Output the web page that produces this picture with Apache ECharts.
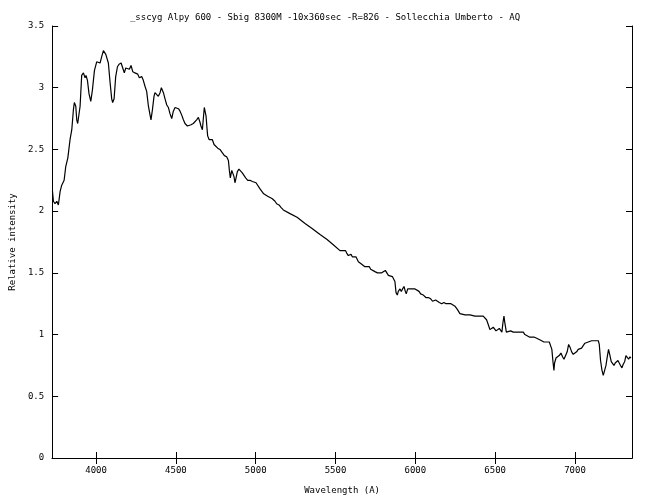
<!DOCTYPE html>
<html>
<head>
<meta charset="utf-8">
<script src="https://cdn.jsdelivr.net/npm/echarts@6/dist/echarts.min.js"></script>
<style>html,body{margin:0;padding:0;background:#fff}#c{width:650px;height:500px}</style>
</head>
<body>
<div id="c"></div>
<script>
var wavelengths = [3727,3733,3743,3754,3764,3775,3785,3800,3810,3823,3837,3848,3858,3864,3873,3879,3885,3894,3900,3910,3921,3931,3937,3946,3956,3967,3977,3990,4004,4015,4025,4035,4046,4052,4061,4069,4077,4088,4098,4104,4113,4123,4134,4144,4157,4167,4177,4186,4198,4209,4219,4230,4244,4261,4271,4286,4296,4307,4317,4328,4338,4344,4353,4363,4369,4380,4390,4401,4409,4422,4432,4443,4453,4463,4474,4484,4495,4505,4516,4526,4536,4547,4557,4572,4582,4595,4609,4620,4630,4641,4651,4657,4666,4672,4678,4683,4689,4695,4699,4708,4720,4728,4739,4751,4762,4776,4787,4804,4818,4829,4835,4841,4850,4856,4864,4870,4877,4885,4895,4906,4916,4927,4937,4950,4964,4979,4991,5002,5012,5027,5037,5050,5062,5075,5090,5104,5121,5131,5146,5158,5173,5215,5259,5309,5353,5403,5447,5484,5528,5549,5563,5570,5580,5591,5597,5605,5616,5628,5636,5643,5653,5664,5674,5684,5699,5712,5720,5730,5747,5762,5774,5789,5799,5812,5820,5831,5841,5856,5866,5872,5879,5887,5893,5904,5912,5920,5929,5937,5943,5952,5966,5983,5998,6008,6023,6033,6050,6066,6081,6096,6108,6119,6127,6137,6150,6165,6179,6192,6206,6223,6233,6248,6259,6265,6279,6311,6342,6373,6405,6425,6436,6446,6457,6467,6478,6488,6499,6505,6515,6526,6536,6542,6549,6555,6561,6570,6582,6597,6613,6630,6645,6659,6676,6686,6697,6714,6728,6743,6760,6776,6791,6805,6822,6839,6849,6855,6862,6868,6872,6881,6891,6901,6912,6922,6931,6941,6951,6960,6968,6979,6989,7000,7010,7020,7031,7041,7052,7062,7073,7083,7093,7104,7114,7125,7135,7146,7152,7160,7169,7177,7185,7194,7202,7210,7219,7227,7235,7244,7252,7260,7269,7277,7285,7294,7302,7311,7319,7327,7336,7344,7350];
var intensity = [2.16,2.08,2.06,2.08,2.05,2.16,2.21,2.25,2.36,2.43,2.58,2.66,2.82,2.88,2.85,2.74,2.71,2.72,2.85,3.10,3.12,3.08,3.10,3.06,2.95,2.89,2.98,3.14,3.21,3.22,3.20,3.25,3.30,3.31,3.27,3.26,3.20,3.04,2.91,2.88,2.91,3.09,3.17,3.19,3.20,3.16,3.12,3.16,3.17,3.15,3.18,3.13,3.12,3.11,3.08,3.09,3.06,3.01,2.97,2.85,2.78,2.74,2.82,2.93,2.96,2.95,2.93,2.96,3.00,2.96,2.91,2.86,2.84,2.79,2.75,2.81,2.84,2.84,2.83,2.81,2.78,2.74,2.71,2.69,2.69,2.70,2.71,2.72,2.74,2.76,2.72,2.69,2.66,2.75,2.84,2.83,2.77,2.67,2.61,2.58,2.57,2.58,2.54,2.54,2.51,2.50,2.48,2.45,2.44,2.41,2.33,2.27,2.33,2.34,2.28,2.23,2.27,2.32,2.34,2.34,2.31,2.30,2.27,2.25,2.25,2.24,2.25,2.23,2.22,2.18,2.17,2.14,2.13,2.12,2.11,2.10,2.08,2.06,2.05,2.03,2.01,1.98,1.95,1.90,1.86,1.81,1.77,1.73,1.68,1.68,1.68,1.66,1.64,1.64,1.65,1.63,1.62,1.63,1.62,1.59,1.58,1.57,1.57,1.55,1.55,1.55,1.53,1.52,1.51,1.50,1.49,1.50,1.51,1.52,1.51,1.48,1.47,1.47,1.46,1.43,1.34,1.32,1.35,1.37,1.35,1.37,1.39,1.35,1.33,1.37,1.37,1.37,1.37,1.36,1.35,1.33,1.32,1.30,1.30,1.29,1.27,1.27,1.28,1.27,1.26,1.25,1.26,1.25,1.25,1.25,1.24,1.23,1.22,1.20,1.17,1.16,1.16,1.15,1.15,1.15,1.15,1.12,1.08,1.04,1.05,1.06,1.07,1.03,1.04,1.05,1.04,1.02,1.10,1.15,1.09,1.02,1.02,1.03,1.02,1.02,1.02,1.02,1.02,1.00,0.99,0.98,0.98,0.98,0.97,0.96,0.95,0.94,0.94,0.94,0.93,0.88,0.78,0.71,0.77,0.81,0.82,0.83,0.85,0.82,0.80,0.83,0.86,0.92,0.90,0.86,0.84,0.84,0.86,0.88,0.89,0.89,0.90,0.93,0.93,0.94,0.94,0.95,0.95,0.95,0.96,0.95,0.92,0.79,0.71,0.67,0.68,0.75,0.82,0.88,0.83,0.78,0.77,0.75,0.77,0.78,0.79,0.77,0.75,0.73,0.76,0.78,0.83,0.82,0.80,0.82,0.81];
var xTicks = [4000,4500,5000,5500,6000,6500,7000];
var xRange = [3725,7357];
var yRange = [0,3.5];
var yStep = 0.5;
var titleText = '_sscyg Alpy 600 - Sbig 8300M -10x360sec -R=826 - Sollecchia Umberto - AQ';
var xName = 'Wavelength (A)';
var yName = 'Relative intensity';

var points = wavelengths.map(function(w,i){return [w,intensity[i]];});
var font = 'DejaVu Sans Mono';
var lineBlack = {lineStyle:{color:'#000',width:1}};
var plain = function(v){return String(v);};
var chart = echarts.init(document.getElementById('c'), null, {renderer:'canvas'});
chart.setOption({
  animation:false,
  backgroundColor:'#fff',
  title:{text:titleText,left:'center',top:8,textStyle:{fontFamily:font,fontSize:9,fontWeight:'normal',color:'#000'}},
  grid:{left:52,right:18,top:26,bottom:42,containLabel:false},
  xAxis:[
    {type:'value',min:xRange[0],max:xRange[1],position:'bottom',
     name:xName,nameLocation:'middle',nameGap:28,nameTextStyle:{fontFamily:font,fontSize:9,color:'#000'},
     axisLine:lineBlack,splitLine:{show:false},
     axisTick:{show:true,inside:true,length:6,customValues:xTicks,lineStyle:{color:'#000'}},
     axisLabel:{customValues:xTicks,formatter:plain,fontFamily:font,fontSize:9,color:'#000',margin:8}},
    {type:'value',min:xRange[0],max:xRange[1],position:'top',
     axisLine:lineBlack,splitLine:{show:false},
     axisTick:{show:true,inside:true,length:6,customValues:xTicks,lineStyle:{color:'#000'}},
     axisLabel:{show:false}}
  ],
  yAxis:[
    {type:'value',min:yRange[0],max:yRange[1],interval:yStep,position:'left',
     name:yName,nameLocation:'middle',nameGap:35,nameTextStyle:{fontFamily:font,fontSize:9,color:'#000'},
     axisLine:{show:true,lineStyle:{color:'#000',width:1}},splitLine:{show:false},
     axisTick:{show:true,inside:true,length:6,lineStyle:{color:'#000'}},
     axisLabel:{formatter:plain,fontFamily:font,fontSize:9,color:'#000',margin:8}},
    {type:'value',min:yRange[0],max:yRange[1],interval:yStep,position:'right',
     axisLine:{show:true,lineStyle:{color:'#000',width:1}},splitLine:{show:false},
     axisTick:{show:true,inside:true,length:6,lineStyle:{color:'#000'}},
     axisLabel:{show:false}}
  ],
  series:[{type:'line',data:points,xAxisIndex:0,yAxisIndex:0,showSymbol:false,symbol:'none',
    lineStyle:{color:'#000',width:1.2},itemStyle:{color:'#000'}}]
});
</script>
</body>
</html>
